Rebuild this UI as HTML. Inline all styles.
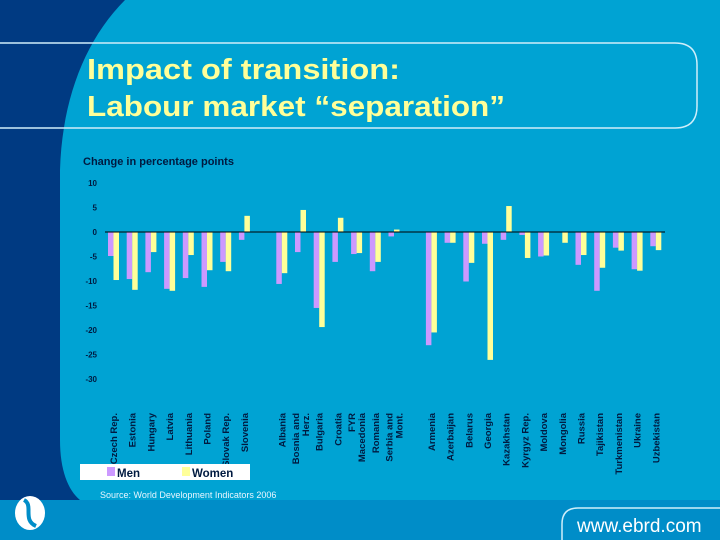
<!DOCTYPE html>
<html><head><meta charset="utf-8"><style>
html,body{margin:0;padding:0;width:720px;height:540px;overflow:hidden;background:#00a3d3;}
svg{display:block;font-family:"Liberation Sans",sans-serif;}
</style></head><body>
<svg width="720" height="540" viewBox="0 0 720 540">
  <rect x="0" y="0" width="720" height="540" fill="#00a3d3"/>
  <path d="M0,0 L125,0 C85,40 62,100 60,170 L60,440 C60,470 68,490 80,500 L0,500 Z" fill="#003a82"/>
  <rect x="0" y="500" width="720" height="40" fill="#008dc8"/>
  <path d="M0,43 L675,43 Q697,43 697,65 L697,106 Q697,128 675,128 L0,128" fill="none" stroke="#cfeefa" stroke-width="1.5"/>
  <text x="87" y="79" font-size="29" font-weight="bold" fill="#ffff99" textLength="313" lengthAdjust="spacingAndGlyphs">Impact of transition:</text>
  <text x="87" y="116" font-size="29" font-weight="bold" fill="#ffff99" textLength="418" lengthAdjust="spacingAndGlyphs">Labour market “separation”</text>

  <text x="83" y="165" font-size="11" font-weight="bold" fill="#001a40">Change in percentage points</text>
  <g id="chart"></g>

  <rect x="80" y="464" width="170" height="16" fill="#ffffff"/>
  <rect x="107" y="467" width="8" height="9" fill="#cc99ff"/>
  <text x="117" y="477" font-size="11.5" font-weight="bold" fill="#001a40">Men</text>
  <rect x="182" y="467" width="8" height="9" fill="#ffff99"/>
  <text x="192" y="477" font-size="11.5" font-weight="bold" fill="#001a40">Women</text>
  <text x="100" y="498" font-size="9" fill="#e8f6ff">Source: World Development Indicators 2006</text>

  <g>
    <ellipse cx="30" cy="513" rx="15" ry="17" fill="#ffffff"/>
    <path d="M24,500 C34,505 22,520 36,526" stroke="#008dc8" stroke-width="4" fill="none"/>
  </g>
  <path d="M720,508 L578,508 Q562,508 562,524 L562,540" fill="none" stroke="#cfeefa" stroke-width="1.5"/>
  <text x="577" y="532" font-size="19" fill="#ffffff">www.ebrd.com</text>
</svg>
<script>
const countries = [
 ["Czech Rep."],["Estonia"],["Hungary"],["Latvia"],["Lithuania"],["Poland"],["Slovak Rep."],["Slovenia"],
 null,
 ["Albania"],["Bosnia and","Herz."],["Bulgaria"],["Croatia"],["FYR","Macedonia"],["Romania"],["Serbia and","Mont."],
 null,
 ["Armenia"],["Azerbaijan"],["Belarus"],["Georgia"],["Kazakhstan"],["Kyrgyz Rep."],["Moldova"],["Mongolia"],["Russia"],["Tajikistan"],["Turkmenistan"],["Ukraine"],["Uzbekistan"]
];
const menValues = [-4.9,-9.6,-8.2,-11.6,-9.4,-11.2,-6.1,-1.6, null, -10.6,-4.1,-15.5,-6.1,-4.5,-8.0,-0.9, null, -23.1,-2.2,-10.1,-2.4,-1.6,-0.6,-5.0,-0.1,-6.7,-12.0,-3.2,-7.6,-2.9];
const womenValues = [-9.8,-11.8,-4.1,-12.0,-4.7,-7.8,-8.0,3.3, null, -8.4,4.5,-19.4,2.9,-4.3,-6.1,0.5, null, -20.5,-2.2,-6.3,-26.1,5.3,-5.3,-4.8,-2.2,-4.7,-7.3,-3.8,-7.9,-3.7];
const yTicks = [10,5,0,-5,-10,-15,-20,-25,-30];

const NS = "http://www.w3.org/2000/svg";
const g = document.getElementById('chart');
const y = v => 232 - v * 4.9;
const xSlot = i => 108 + i * 18.7;
const bw = 5.5;
function mk(tag, attrs){ const e=document.createElementNS(NS,tag); for(const k in attrs) e.setAttribute(k,attrs[k]); g.appendChild(e); return e; }

yTicks.forEach(t=>{
  const e = mk('text',{x:97,y:y(t)+3,'font-size':8,'font-weight':'bold','text-anchor':'end',fill:'#001a40'});
  
  
  e.textContent = t;
});

countries.forEach((c,i)=>{
  if(!c) return;
  const x0 = xSlot(i);
  [[menValues[i],'#cc99ff',0,'bar-men'],[womenValues[i],'#ffff99',bw,'bar-women']].forEach(([v,col,off,nm])=>{
    const top = Math.min(y(v), y(0)), h = Math.abs(y(v)-y(0));
    const r = mk('rect',{x:x0+off,y:top,width:bw,height:Math.max(h,0.5),fill:col});
    
    
  });
  const cx = x0 + bw;
  const n = c.length;
  c.forEach((line,k)=>{
    const lx = cx + (k - (n-1)/2) * 10 + 3.5;
    const t = mk('text',{x:0,y:0,'font-size':9.5,'font-weight':'bold',fill:'#001a40','text-anchor':'end',transform:`translate(${lx},413) rotate(-90)`});
    
    
    t.textContent = line;
  });
});
const ax = mk('line',{x1:105,x2:665,y1:y(0),y2:y(0),stroke:'#000','stroke-width':1});


</script>
</body></html>
